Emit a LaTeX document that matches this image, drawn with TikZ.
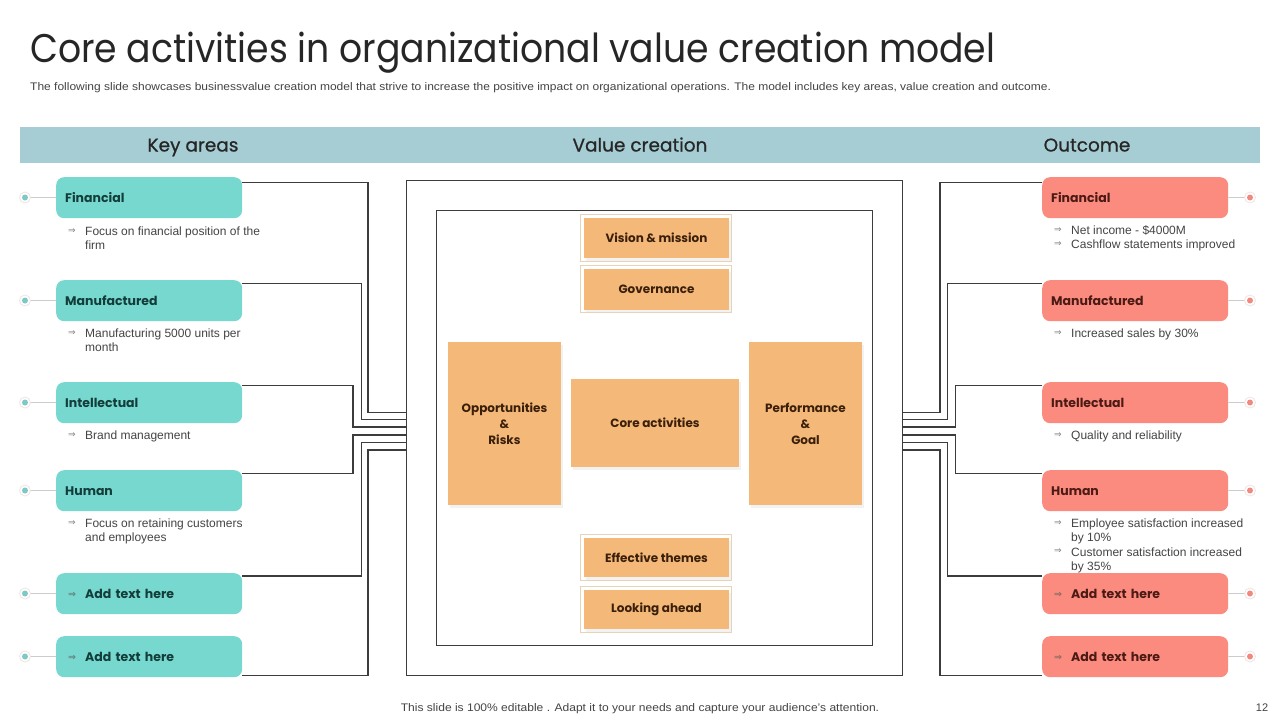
\documentclass[tikz,border=0pt]{standalone}
\usepackage{fontspec}
\usepackage{graphicx}
\setmainfont{Liberation Sans}
\newfontfamily\pop{Poppins}
\newfontfamily\poph[FakeBold=0.7]{Poppins}
\newfontfamily\djv{DejaVu Sans}
\usetikzlibrary{shadows}
\definecolor{band}{HTML}{A5CDD3}
\definecolor{tealc}{HTML}{76D8CE}
\definecolor{dotteal}{HTML}{7CC9C6}
\definecolor{dotsal}{HTML}{F08A80}
\definecolor{salc}{HTML}{FA8B7E}
\definecolor{orc}{HTML}{F4B878}
\definecolor{framec}{HTML}{E6D3B8}
\definecolor{linec}{HTML}{3C3C3C}
\definecolor{thinc}{HTML}{CCCCCC}
\definecolor{ringc}{HTML}{EFE4E4}
\definecolor{tealtxt}{HTML}{143C3A}
\definecolor{saltxt}{HTML}{4B1A14}
\definecolor{ortxt}{HTML}{3A1F0B}
\definecolor{bulgray}{HTML}{444444}
\definecolor{arrgray}{HTML}{808080}
\definecolor{headtxt}{HTML}{262626}
\newcommand{\arr}{{\color{arrgray}\djv\fontsize{9}{9}\selectfont\raisebox{1.2pt}{⇒}}}
\newcommand{\arrb}{{\djv\fontsize{9.5}{9.5}\selectfont\raisebox{1.2pt}{⇒}}}
\begin{document}
\begin{tikzpicture}[x=1pt,y=-1pt,
  conn/.style={draw=linec, line width=1.1pt},
  thinl/.style={draw=thinc, line width=0.8pt},
  boxbase/.style={rounded corners=8pt, minimum width=186pt, minimum height=41pt, text width=168pt, inner xsep=9pt, inner ysep=0pt, align=left, font=\pop\bfseries\fontsize{12.5}{14}\selectfont},
  lbox/.style={boxbase, fill=tealc, text=tealtxt, anchor=north west},
  rbox/.style={boxbase, fill=salc, text=saltxt, anchor=north west},
  ringl/.style={circle, minimum size=11pt, inner sep=0pt, draw=ringc, fill=white, line width=0.8pt, path picture={\fill[dotteal] (path picture bounding box.center) circle (3pt);}},
  ringr/.style={circle, minimum size=11pt, inner sep=0pt, draw=ringc, fill=white, line width=0.8pt, path picture={\fill[dotsal] (path picture bounding box.center) circle (3pt);}},
  btxt/.style={anchor=base west, align=left, inner sep=0pt, font=\fontsize{12}{14}\selectfont, text=bulgray},
  barr/.style={anchor=base, inner sep=0pt},
  obox/.style={fill=orc, inner sep=0pt, align=center, text=ortxt, font=\pop\bfseries\fontsize{12}{16}\selectfont, drop shadow={shadow xshift=2pt, shadow yshift=-3pt, opacity=0.10}},
  frm/.style={draw=framec, line width=0.8pt},
  headt/.style={anchor=base, inner sep=0pt, text=headtxt, font=\poph\fontsize{18.5}{20}\selectfont}
]
\useasboundingbox (0,0) rectangle (1280,720);
\fill[white] (0,0) rectangle (1280,720);

% title and subtitle
\node[anchor=base west, inner sep=0pt, text=headtxt] (title) at (30,62)
  {\pop\fontsize{40}{48}\selectfont\scalebox{0.905}[1]{Core activities in organizational value creation model}};
\node[anchor=base west, inner sep=0pt, text=bulgray] (sub) at (30,90)
  {\fontsize{11}{12}\selectfont\scalebox{1.09}[1]{The following slide showcases businessvalue creation model that strive to increase the positive impact on organizational operations. The model includes key areas, value creation and outcome.}};

% header band
\node[fill=band, minimum width=1240pt, minimum height=36pt, inner sep=0pt, anchor=north west] (band) at (20,127) {};
\node[headt] (h1) at (193,151.5) {Key areas};
\node[headt] (h2) at (640,151.5) {Value creation};
\node[headt] (h3) at (1087,151.5) {Outcome};

% frames
\node[draw=linec, line width=1.1pt, minimum width=496pt, minimum height=495pt, inner sep=0pt, anchor=north west] (outer) at (406,180) {};
\node[draw=linec, line width=1.1pt, minimum width=436pt, minimum height=435pt, inner sep=0pt, anchor=north west] (inner) at (436,210) {};

% left boxes
\node[lbox] (lf) at (56,177) {Financial};
\node[lbox] (lm) at (56,280) {Manufactured};
\node[lbox] (li) at (56,382) {Intellectual};
\node[lbox] (lh) at (56,470) {Human};
\node[lbox] (la) at (56,573) {\hspace*{3pt}\makebox[17pt][l]{\color{tealtxt!65}\arrb}Add text here};
\node[lbox] (lb) at (56,636) {\hspace*{3pt}\makebox[17pt][l]{\color{tealtxt!65}\arrb}Add text here};

% right boxes
\node[rbox] (rf) at (1042,177) {Financial};
\node[rbox] (rm) at (1042,280) {Manufactured};
\node[rbox] (ri) at (1042,382) {Intellectual};
\node[rbox] (rh) at (1042,470) {Human};
\node[rbox] (ra) at (1042,573) {\hspace*{3pt}\makebox[17pt][l]{\color{saltxt!65}\arrb}Add text here};
\node[rbox] (rb) at (1042,636) {\hspace*{3pt}\makebox[17pt][l]{\color{saltxt!65}\arrb}Add text here};

% dots
\node[ringl] (dl1) at (25,197.5) {};
\node[ringl] (dl2) at (25,300.5) {};
\node[ringl] (dl3) at (25,402.5) {};
\node[ringl] (dl4) at (25,490.5) {};
\node[ringl] (dl5) at (25,593.5) {};
\node[ringl] (dl6) at (25,656.5) {};
\node[ringr] (dr1) at (1250,197.5) {};
\node[ringr] (dr2) at (1250,300.5) {};
\node[ringr] (dr3) at (1250,402.5) {};
\node[ringr] (dr4) at (1250,490.5) {};
\node[ringr] (dr5) at (1250,593.5) {};
\node[ringr] (dr6) at (1250,656.5) {};
\draw[thinl] (dl1) -- (lf); \draw[thinl] (dl2) -- (lm); \draw[thinl] (dl3) -- (li);
\draw[thinl] (dl4) -- (lh); \draw[thinl] (dl5) -- (la); \draw[thinl] (dl6) -- (lb);
\draw[thinl] (dr1) -- (rf); \draw[thinl] (dr2) -- (rm); \draw[thinl] (dr3) -- (ri);
\draw[thinl] (dr4) -- (rh); \draw[thinl] (dr5) -- (ra); \draw[thinl] (dr6) -- (rb);

% bullets left (node base = baseline of last line)
\node[barr] (al1) at (72,235) {\arr};
\node[btxt] (tl1) at (85,249) {Focus on financial position of the\\firm};
\node[barr] (al2) at (72,337) {\arr};
\node[btxt] (tl2) at (85,351) {Manufacturing 5000 units per\\month};
\node[barr] (al3) at (72,439) {\arr};
\node[btxt] (tl3) at (85,439) {Brand management};
\node[barr] (al4) at (72,527) {\arr};
\node[btxt] (tl4) at (85,541) {Focus on retaining customers\\and employees};

% bullets right
\node[barr] (ar1) at (1058,234) {\arr};
\node[btxt] (tr1) at (1071,234) {Net income - \$4000M};
\node[barr] (ar2) at (1058,248) {\arr};
\node[btxt] (tr2) at (1071,248) {Cashflow statements improved};
\node[barr] (ar3) at (1058,337) {\arr};
\node[btxt] (tr3) at (1071,337) {Increased sales by 30\%};
\node[barr] (ar4) at (1058,439) {\arr};
\node[btxt] (tr4) at (1071,439) {Quality and reliability};
\node[barr] (ar5) at (1058,527) {\arr};
\node[btxt] (tr5) at (1071,541) {Employee satisfaction increased\\by 10\%};
\node[barr] (ar6) at (1058,555) {\arr};
\node[btxt] (tr6) at (1071,570) {Customer satisfaction increased\\by 35\%};

% connector end points
\coordinate (L1) at (406,412.5); \coordinate (L2) at (406,419.5); \coordinate (L3) at (406,427);
\coordinate (L4) at (406,435); \coordinate (L5) at (406,442.5); \coordinate (L6) at (406,450);
\coordinate (R1) at (902,412.5); \coordinate (R2) at (902,419.5); \coordinate (R3) at (902,427);
\coordinate (R4) at (902,435); \coordinate (R5) at (902,442.5); \coordinate (R6) at (902,450);

% left connectors
\draw[conn] ([yshift=-5.5pt]lf.north east) -| (368,412.5) -- (L1);
\draw[conn] ([yshift=-3.3pt]lm.north east) -| (361.5,419.5) -- (L2);
\draw[conn] ([yshift=-3.7pt]li.north east) -| (353,427) -- (L3);
\draw[conn] ([yshift=-3.3pt]lh.north east) -| (353,435) -- (L4);
\draw[conn] ([yshift=-3pt]la.north east) -| (361.5,442.5) -- (L5);
\draw[conn] ([yshift=2.3pt]lb.south east) -| (368,450) -- (L6);
% right connectors
\draw[conn] ([yshift=-5.5pt]rf.north west) -| (940,412.5) -- (R1);
\draw[conn] ([yshift=-3.3pt]rm.north west) -| (947.5,419.5) -- (R2);
\draw[conn] ([yshift=-3.7pt]ri.north west) -| (955.5,427) -- (R3);
\draw[conn] ([yshift=-3.3pt]rh.north west) -| (955.5,435) -- (R4);
\draw[conn] ([yshift=-3pt]ra.north west) -| (947.5,442.5) -- (R5);
\draw[conn] ([yshift=2.3pt]rb.south west) -| (940,450) -- (R6);

% value creation blocks
\node[obox, minimum width=145pt, minimum height=40.5pt] (vm) at (656.5,238) {Vision \& mission};
\node[obox, minimum width=145pt, minimum height=41pt] (gov) at (656.5,289.5) {Governance};
\node[obox, minimum width=145pt, minimum height=39pt] (eff) at (656.5,557.5) {Effective themes};
\node[obox, minimum width=145pt, minimum height=38.5pt] (look) at (656.5,609.3) {Looking ahead};
\draw[frm] ([xshift=-3.5pt,yshift=3.5pt]vm.north west) rectangle ([xshift=2pt,yshift=-3pt]vm.south east);
\draw[frm] ([xshift=-3.5pt,yshift=3pt]gov.north west) rectangle ([xshift=2pt,yshift=-2.5pt]gov.south east);
\draw[frm] ([xshift=-3.5pt,yshift=3.5pt]eff.north west) rectangle ([xshift=2pt,yshift=-3pt]eff.south east);
\draw[frm] ([xshift=-3.5pt,yshift=3.5pt]look.north west) rectangle ([xshift=2pt,yshift=-3.5pt]look.south east);

\node[obox, minimum width=113pt, minimum height=163pt] (opp) at (504.5,423.5) {Opportunities\\\&\\Risks};
\node[obox, minimum width=168pt, minimum height=88pt] (core) at (655,423) {Core activities};
\node[obox, minimum width=113pt, minimum height=163pt] (perf) at (805.5,423.5) {Performance\\\&\\Goal};

% footer
\node[anchor=base, inner sep=0pt, text=bulgray] (foot) at (640,711)
  {\fontsize{11}{12}\selectfont\scalebox{1.095}[1]{This slide is 100\% editable . Adapt it to your needs and capture your audience's attention.}};
\node[anchor=base, inner sep=0pt, text=bulgray] (pg) at (1262,711) {\fontsize{11}{12}\selectfont 12};
\end{tikzpicture}
\end{document}
